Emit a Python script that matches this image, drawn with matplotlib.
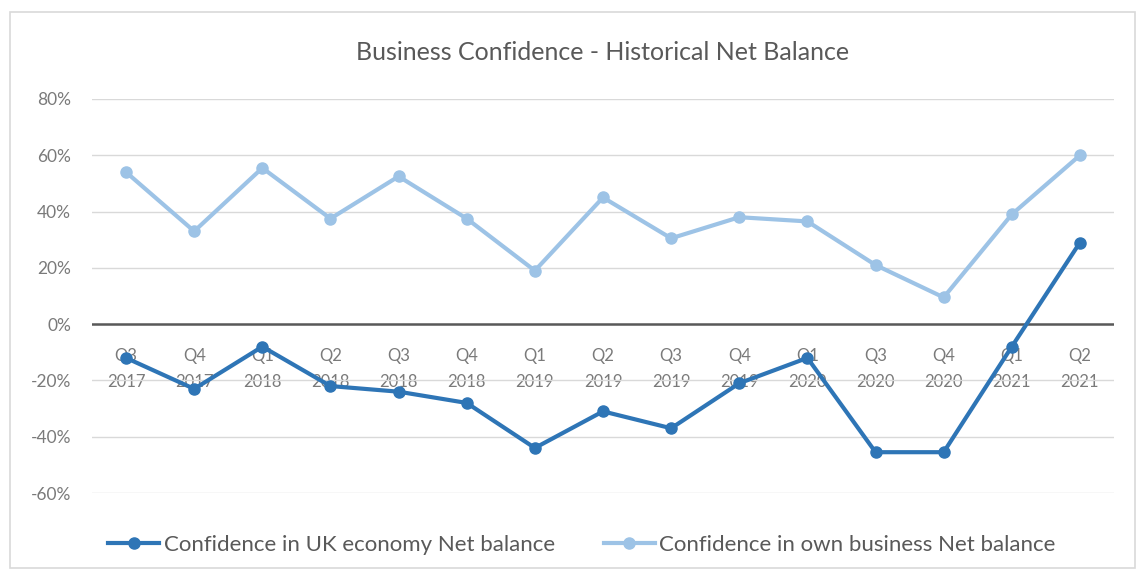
import matplotlib
matplotlib.use('Agg')
from matplotlib import pyplot as plt
from matplotlib.patches import Rectangle
from matplotlib.ticker import FuncFormatter

quarters = ['Q3', 'Q4', 'Q1', 'Q2', 'Q3', 'Q4', 'Q1', 'Q2', 'Q3', 'Q4',
            'Q1', 'Q3', 'Q4', 'Q1', 'Q2']
years = ['2017', '2017', '2018', '2018', '2018', '2018', '2019', '2019',
         '2019', '2019', '2020', '2020', '2020', '2021', '2021']
uk_economy = [-12, -23, -8, -22, -24, -28, -44, -31, -37, -21, -12, -45.5,
              -45.5, -8, 29]
own_business = [54, 33, 55.5, 37.5, 52.5, 37.5, 19, 45, 30.5, 38, 36.5, 21,
                9.5, 39, 60]

plt.rcParams['font.family'] = ['Lato', 'DejaVu Sans']
text_col = '#7a7a7a'
dark = '#2e75b6'
light = '#9dc3e6'

fig = plt.figure(figsize=(11.39, 5.72), dpi=100)
fig.patches.append(Rectangle((10 / 1139, 4 / 572), 1125 / 1139, 556 / 572,
                             transform=fig.transFigure, fill=False,
                             edgecolor='#d9d9d9', linewidth=1.2))
ax = fig.add_axes([92 / 1139, 1 - 493 / 572, (1114 - 92) / 1139, 394 / 572])

x = list(range(len(quarters)))
ax.plot(x, uk_economy, color=dark, linewidth=3, marker='o', markersize=8,
        label='Confidence in UK economy Net balance', zorder=4)
ax.plot(x, own_business, color=light, linewidth=3, marker='o', markersize=8,
        label='Confidence in own business Net balance', zorder=3)

ax.set_xlim(-0.5, len(quarters) - 0.5)
ax.set_ylim(-60, 80)
ax.set_yticks(range(-60, 81, 20))
ax.yaxis.set_major_formatter(FuncFormatter(lambda v, p: f'{v:.0f}%'))
ax.grid(axis='y', color='#d9d9d9', linewidth=1)
ax.axhline(0, color='#595959', linewidth=1.8, zorder=2)
ax.set_xticks([])
ax.tick_params(axis='y', length=0, labelsize=12.5, labelcolor=text_col, pad=15)
for s in ax.spines.values():
    s.set_visible(False)

for i, (q, y) in enumerate(zip(quarters, years)):
    ax.text(i, -16, f'{q}\n{y}', ha='center', va='center', fontsize=12,
            color=text_col, linespacing=1.75, zorder=1)

ax.set_title('Business Confidence - Historical Net Balance', fontsize=18,
             color='#595959', pad=28)

fig.legend(loc='center', bbox_to_anchor=(0.511, 0.047), ncol=2,
           frameon=False, fontsize=16, labelcolor='#595959',
           handlelength=2.3, handletextpad=0.2, columnspacing=2.2)

plt.savefig('out.png', dpi=100)
